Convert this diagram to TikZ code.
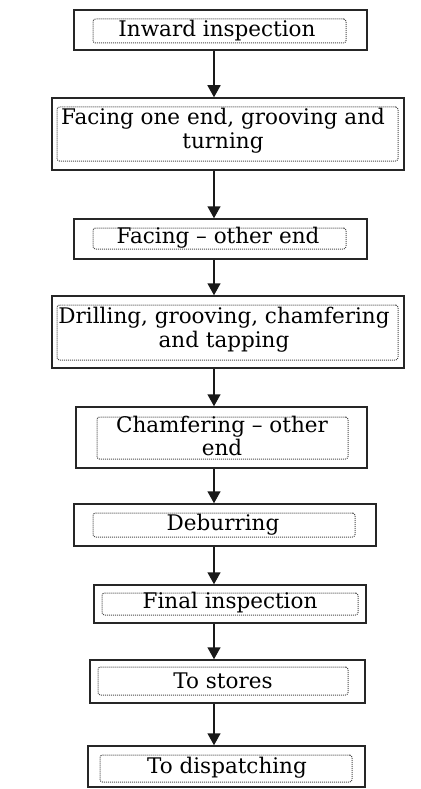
\documentclass[tikz,border=0pt]{standalone}
\usepackage{fontspec}
\setmainfont{DejaVu Serif}
\usetikzlibrary{arrows.meta}
\tikzset{
  outerbox/.style={draw=black!85, line width=1.5pt, inner sep=0pt, fill=white},
  innerbox/.style={draw=black!70, line width=1pt, dash pattern=on 1pt off 1pt, rounded corners=2.5pt, inner sep=0pt},
  lbl/.style={inner sep=0pt, align=center, font=\fontsize{21.5}{24}\selectfont, text=black},
  flow/.style={draw=black!90, line width=1.5pt, -{Triangle[width=13pt,length=12pt]}}
}
\begin{document}
\begin{tikzpicture}[x=1pt,y=-1pt]
\useasboundingbox (0,0) rectangle (420,789);
\coordinate (ax) at (214,0);
% Box 1
\node[outerbox, minimum width=293pt, minimum height=40pt] (b1) at (220.5,30) {};
\node[innerbox, minimum width=253pt, minimum height=24pt] (i1) at (219.5,31) {};
\node[lbl] (t1) at (217,31) {Inward inspection};
% Box 2
\node[outerbox, minimum width=352pt, minimum height=72pt] (b2) at (228,134) {};
\node[innerbox, minimum width=341pt, minimum height=54pt] (i2) at (227.5,134) {};
\node[lbl] (t2) at (223,131) {Facing one end, grooving and\\turning};
% Box 3
\node[outerbox, minimum width=293pt, minimum height=40pt] (b3) at (220.5,239) {};
\node[innerbox, minimum width=253pt, minimum height=21pt] (i3) at (219.5,238.5) {};
\node[lbl] (t3) at (218,238) {Facing -- other end};
% Box 4
\node[outerbox, minimum width=352pt, minimum height=72pt] (b4) at (228,332) {};
\node[innerbox, minimum width=341pt, minimum height=55pt] (i4) at (227.5,332.5) {};
\node[lbl] (t4) at (224,330) {Drilling, grooving, chamfering\\and tapping};
% Box 5
\node[outerbox, minimum width=291pt, minimum height=61pt] (b5) at (221.5,437.5) {};
\node[innerbox, minimum width=251pt, minimum height=42pt] (i5) at (222.5,438) {};
\node[lbl, font=\fontsize{21.5}{20}\selectfont] (t5) at (222,436) {Chamfering -- other\\end};
% Box 6
\node[outerbox, minimum width=302pt, minimum height=42pt] (b6) at (225,525) {};
\node[innerbox, minimum width=262pt, minimum height=24pt] (i6) at (224,525) {};
\node[lbl] (t6) at (223,525) {Deburring};
% Box 7
\node[outerbox, minimum width=272pt, minimum height=38pt] (b7) at (230,604) {};
\node[innerbox, minimum width=256pt, minimum height=22pt] (i7) at (230,604) {};
\node[lbl] (t7) at (230,603) {Final inspection};
% Box 8
\node[outerbox, minimum width=275pt, minimum height=43pt] (b8) at (227.5,681.5) {};
\node[innerbox, minimum width=250pt, minimum height=28pt] (i8) at (223,681) {};
\node[lbl] (t8) at (223,681) {To stores};
% Box 9
\node[outerbox, minimum width=277pt, minimum height=41pt] (b9) at (226.5,766.5) {};
\node[innerbox, minimum width=252pt, minimum height=27pt] (i9) at (226,768.5) {};
\node[lbl] (t9) at (227,768) {To dispatching};
% Arrows
\draw[flow] (b1.south -| ax) -- (b2.north -| ax);
\draw[flow] (b2.south -| ax) -- (b3.north -| ax);
\draw[flow] (b3.south -| ax) -- (b4.north -| ax);
\draw[flow] (b4.south -| ax) -- (b5.north -| ax);
\draw[flow] (b5.south -| ax) -- (b6.north -| ax);
\draw[flow] (b6.south -| ax) -- (b7.north -| ax);
\draw[flow] (b7.south -| ax) -- (b8.north -| ax);
\draw[flow] (b8.south -| ax) -- (b9.north -| ax);
\end{tikzpicture}
\end{document}
